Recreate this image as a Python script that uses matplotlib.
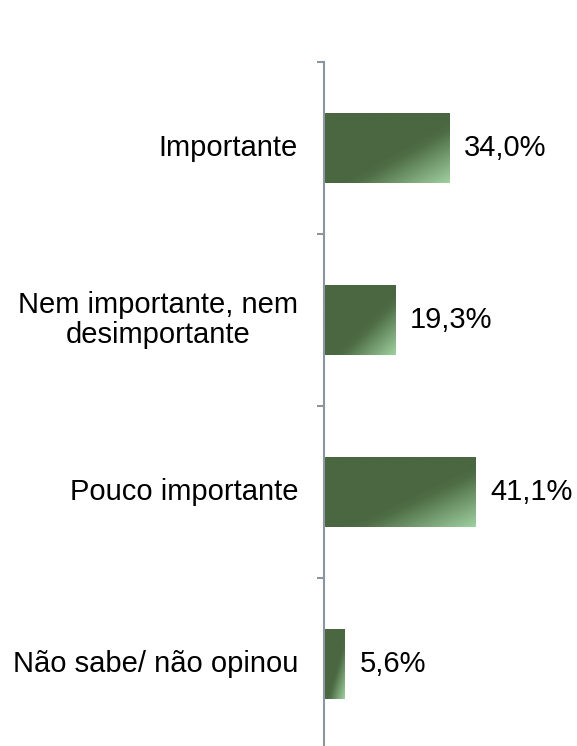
import matplotlib
matplotlib.use("Agg")
import matplotlib.pyplot as plt
import numpy as np
from matplotlib.colors import LinearSegmentedColormap
from matplotlib.patches import Rectangle

categories = ["Importante", "Nem importante, nem\ndesimportante", "Pouco importante", "Não sabe/ não opinou"]
values = [34.0, 19.3, 41.1, 5.6]
value_labels = ["34,0%", "19,3%", "41,1%", "5,6%"]

plt.rcParams['font.family'] = ['Liberation Sans', 'DejaVu Sans']

fig = plt.figure(figsize=(5.77, 7.46), dpi=100)
ax = fig.add_axes([324/577, -4/746, 253/577, 688/746])

n = len(categories)
ax.set_ylim(n - 0.5, -0.5)
ax.set_xlim(0, 253/3.68)

cmap = LinearSegmentedColormap.from_list("g", [(0, "#4a6741"), (0.57, "#4a6741"), (0.63, "#4f6e46"), (1.0, "#9fd0a0")])
h = 0.41
gx, gy = np.meshgrid(np.linspace(0, 1, 200), np.linspace(0, 1, 200))
grad = (gx + gy) / 2

for i, v in enumerate(values):
    y0 = i - h/2
    rect = Rectangle((0, y0), v, h, facecolor="none", edgecolor="none")
    ax.add_patch(rect)
    im = ax.imshow(grad, cmap=cmap, extent=(0, v, y0 + h, y0), aspect="auto", origin="upper",
                   vmin=0, vmax=1, zorder=2, interpolation="bilinear")
    im.set_clip_path(rect)
    ax.text(v + 15/3.68, i, value_labels[i], va="center", ha="left", fontsize=21, color="black")
    ax.text(-26/3.68, i, categories[i], va="center", ha="right", fontsize=21, color="black",
            multialignment="center", linespacing=1.1)

ax.set_xlim(0, 253/3.68)
ax.set_ylim(n - 0.5, -0.5)
for s in ["top", "right", "bottom"]:
    ax.spines[s].set_visible(False)
ax.spines["left"].set_color("#8c96a0")
ax.spines["left"].set_linewidth(1.5)
ax.set_xticks([])
ax.set_yticks(np.arange(-0.5, n + 0.5, 1))
ax.set_yticklabels([])
ax.tick_params(axis="y", direction="out", length=5, width=1.5, color="#8c96a0")

fig.savefig("out.png", dpi=100)
